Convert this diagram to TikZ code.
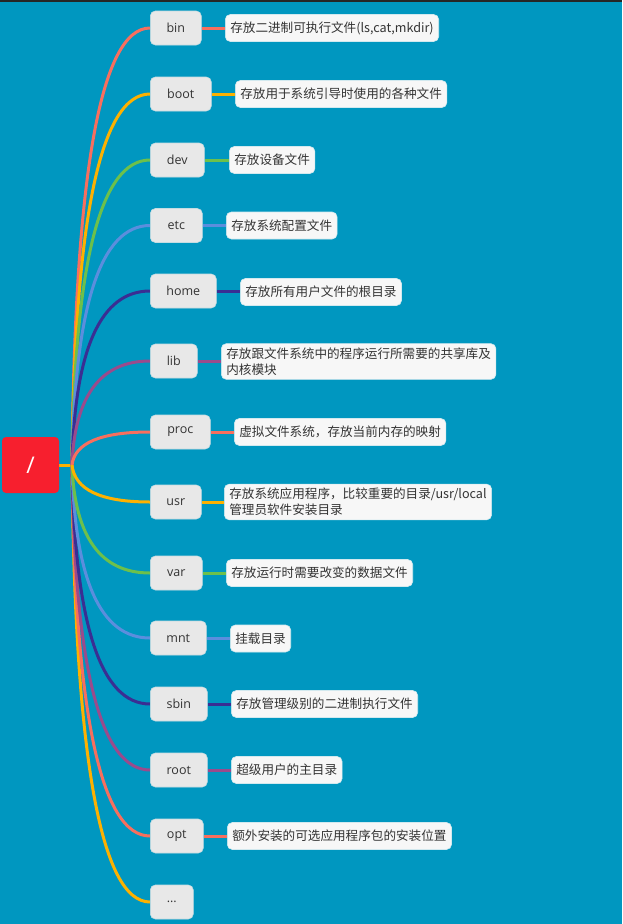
\documentclass[tikz,border=0pt]{standalone}
\usepackage{fontspec}
\setmainfont{Noto Sans CJK SC}
\newfontfamily\latfont{Open Sans}
\usetikzlibrary{calc}
\pgfdeclarelayer{bgfill}
\pgfdeclarelayer{edges}
\pgfsetlayers{bgfill,edges,main}
\definecolor{bg}{HTML}{0097C0}
\definecolor{cA}{HTML}{F76F5E}
\definecolor{cB}{HTML}{FDB100}
\definecolor{cC}{HTML}{6DC04B}
\definecolor{cD}{HTML}{5B8EDD}
\definecolor{cE}{HTML}{3A2E93}
\definecolor{cF}{HTML}{9A4B8C}
\definecolor{rootred}{HTML}{F71F2E}
\definecolor{childfill}{HTML}{E8E8E8}
\definecolor{descfill}{HTML}{F7F7F7}
\definecolor{txt}{HTML}{333333}
\tikzset{
  child/.style={draw=childfill!85!bg, line width=0.6pt, fill=childfill, rounded corners=5pt, anchor=west,
    minimum height=34pt, inner sep=0pt, font=\latfont\fontsize{12.5}{14}\selectfont, text=txt},
  desc/.style={draw=descfill!85!bg, line width=0.6pt, fill=descfill, rounded corners=5pt, anchor=west,
    minimum height=27pt, inner xsep=5pt, inner ysep=4pt, align=left,
    font=\fontsize{12.6}{16}\selectfont, text=txt},
  branch/.style={line width=3pt},
  link/.style={line width=3pt}
}
\begin{document}
\begin{tikzpicture}[x=1pt,y=-1pt]
\begin{pgfonlayer}{bgfill}
\fill[bg] (0,0) rectangle (622,924);
\fill[black!85] (0,0) rectangle (622,1.5);
\end{pgfonlayer}
\useasboundingbox (0,0) rectangle (622,924);

% root
\node[fill=rootred, rounded corners=4pt, minimum width=57pt, minimum height=56pt, inner sep=0pt,
  text=white, font=\latfont\fontsize{23}{24}\selectfont] (root) at (30.5,465) {/};
\coordinate (J) at (72,465);

% children
\node[child, minimum width=51pt] (bin) at (150,28) {bin};
\node[child, minimum width=61pt] (boot) at (150,94) {boot};
\node[child, minimum width=54pt] (dev) at (150,160) {dev};
\node[child, minimum width=52pt] (etc) at (150,225.5) {etc};
\node[child, minimum width=66pt] (home) at (150,291) {home};
\node[child, minimum width=47pt] (lib) at (150,361) {lib};
\node[child, minimum width=60pt] (proc) at (150,432) {proc};
\node[child, minimum width=51pt] (usr) at (150,502) {usr};
\node[child, minimum width=52pt] (var) at (150,573) {var};
\node[child, minimum width=56pt] (mnt) at (150,638) {mnt};
\node[child, minimum width=57pt] (sbin) at (150,704) {sbin};
\node[child, minimum width=57pt] (rootdir) at (150,770) {root};
\node[child, minimum width=53pt] (opt) at (150,836) {opt};
\node[child, minimum width=43pt] (more) at (150,902) {...};

% descriptions
\node[desc] (bin-d) at (225,28) {存放二进制可执行文件(ls,cat,mkdir)};
\node[desc] (boot-d) at (235,94) {存放用于系统引导时使用的各种文件};
\node[desc] (dev-d) at (229,160) {存放设备文件};
\node[desc] (etc-d) at (226,225.5) {存放系统配置文件};
\node[desc] (home-d) at (240,292) {存放所有用户文件的根目录};
\node[desc] (lib-d) at (221,361.5) {存放跟文件系统中的程序运行所需要的共享库及\\内核模块};
\node[desc] (proc-d) at (234,432) {虚拟文件系统，存放当前内存的映射};
\node[desc] (usr-d) at (224,502) {存放系统应用程序，比较重要的目录/usr/local\\管理员软件安装目录};
\node[desc] (var-d) at (226,573) {存放运行时需要改变的数据文件};
\node[desc] (mnt-d) at (230,638.5) {挂载目录};
\node[desc] (sbin-d) at (231,704) {存放管理级别的二进制执行文件};
\node[desc] (rootdir-d) at (231,770) {超级用户的主目录};
\node[desc] (opt-d) at (227,836) {额外安装的可选应用程序包的安装位置};

% connectors
\begin{pgfonlayer}{edges}
\draw[link, cB] (root.east) -- (J);
\foreach \n/\c in {more/cB, opt/cA, rootdir/cF, sbin/cE, mnt/cD, var/cC,
                   bin/cA, boot/cB, dev/cC, etc/cD, home/cE, lib/cF, proc/cA, usr/cB} {
  \coordinate (q) at ($(J |- \n.west)+(4,0)$);
  \draw[branch, \c] (J) .. controls ($(J)!0.6667!(q)$) and ($(\n.west)!0.6667!(q)$) .. (\n.west);
}
\foreach \n/\c in {bin/cA, boot/cB, dev/cC, etc/cD, home/cE, lib/cF, proc/cA, usr/cB,
                   var/cC, mnt/cD, sbin/cE, rootdir/cF, opt/cA} {
  \draw[link, \c] (\n.east) -- (\n-d.west |- \n.east);
}
\end{pgfonlayer}
\end{tikzpicture}
\end{document}
